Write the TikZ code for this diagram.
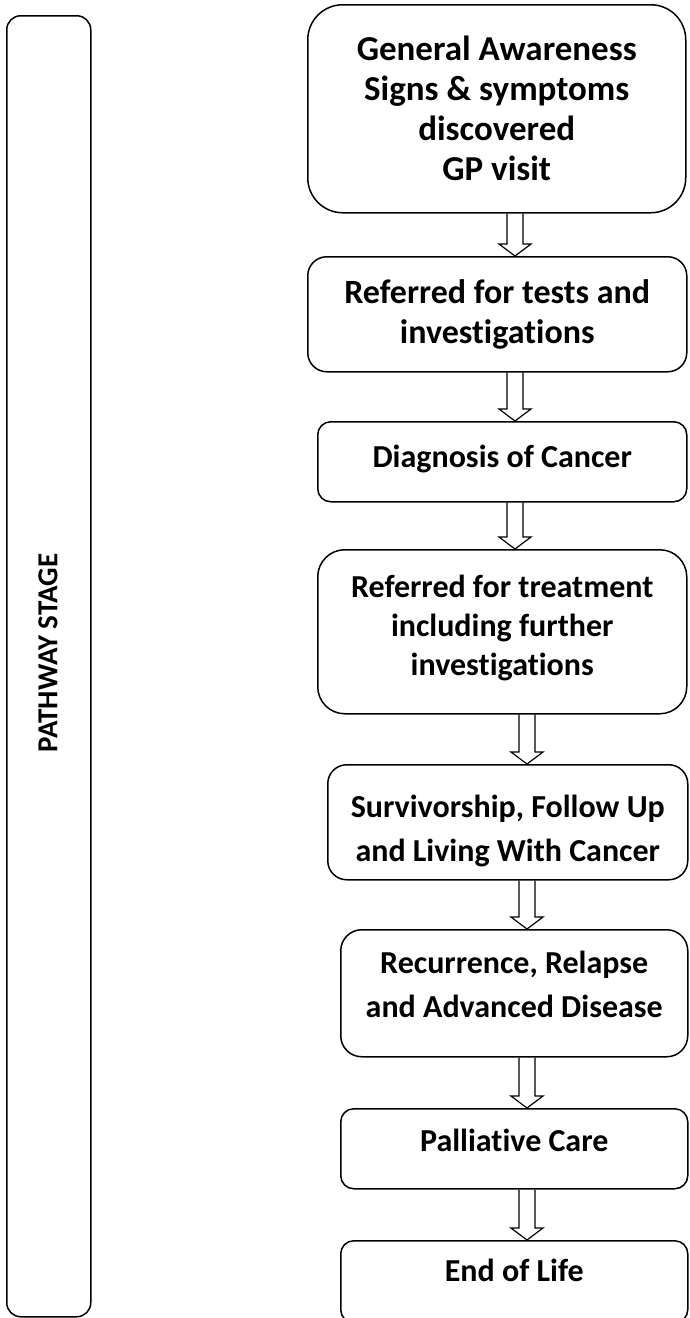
\documentclass[tikz,border=0pt]{standalone}
\usepackage{fontspec}
\setmainfont{Carlito}[Ligatures=NoCommon]
\usetikzlibrary{calc}
\tikzset{
  stagebox/.style={draw=black, line width=1.5pt, fill=white, anchor=north west, inner sep=0pt, align=center,
    font=\fontsize{32}{39}\selectfont\bfseries},
  arrowline/.style={draw=black, line width=1.2pt, line join=miter},
}
\newcommand\stagetext[2]{\raisebox{#1}[\height][\depth]{\begin{tabular}{@{}c@{}}#2\end{tabular}}}
\newcommand\blockarrow[3]{%
  \draw[arrowline] let \p1=(#1.south), \p2=(#2.north) in
    ({(#3-8)*1pt},\y1) -- ({(#3-8)*1pt},\y2+12pt) -- ({(#3-16)*1pt},\y2+12pt) -- ({#3*1pt},\y2)
    -- ({(#3+16)*1pt},\y2+12pt) -- ({(#3+8)*1pt},\y2+12pt) -- ({(#3+8)*1pt},\y1);
}
\begin{document}
\begin{tikzpicture}[x=1pt,y=-1pt]
\useasboundingbox (0,0) rectangle (689,1318);
\clip (0,0) rectangle (689,1318);
\fill[white] (0,0) rectangle (689,1318);
% left stage box
\node[draw=black, line width=1.5pt, rounded corners=14pt, anchor=north west, inner sep=0pt,
  minimum width=84pt, minimum height=1301pt] (side) at (6,15) {};
\node[rotate=90, font=\fontsize{29}{34}\selectfont\bfseries] (sidelabel) at (48,653) {PATHWAY STAGE};
% stage boxes
\node[stagebox, rounded corners=35pt, minimum width=378pt, minimum height=208pt,
  font=\fontsize{35}{40}\selectfont\bfseries] (b1) at (307,4)
  {\stagetext{-4pt}{General Awareness\\Signs \& symptoms\\discovered\\GP visit}};
\node[stagebox, rounded corners=19pt, minimum width=379pt, minimum height=115pt,
  font=\fontsize{34}{40}\selectfont\bfseries] (b2) at (307,256)
  {\stagetext{-1pt}{Referred for tests and\\investigations}};
\node[stagebox, rounded corners=13pt, minimum width=369pt, minimum height=80pt] (b3) at (317,421)
  {\stagetext{2pt}{Diagnosis of Cancer}};
\node[stagebox, rounded corners=27pt, minimum width=369pt, minimum height=164pt] (b4) at (317,549)
  {\stagetext{3pt}{Referred for treatment\\including further\\investigations}};
\node[stagebox, rounded corners=19pt, minimum width=360pt, minimum height=115pt,
  font=\fontsize{32}{44}\selectfont\bfseries] (b5) at (327,764)
  {\stagetext{-8pt}{Survivorship, Follow Up\\and Living With Cancer}};
\node[stagebox, rounded corners=21pt, minimum width=347pt, minimum height=127pt,
  font=\fontsize{32}{44}\selectfont\bfseries] (b6) at (340,929)
  {\stagetext{7pt}{Recurrence, Relapse\\and Advanced Disease}};
\node[stagebox, rounded corners=13pt, minimum width=347pt, minimum height=80pt] (b7) at (340,1108)
  {\stagetext{5pt}{Palliative Care}};
\node[stagebox, rounded corners=13pt, minimum width=347pt, minimum height=82pt] (b8) at (340,1240)
  {\stagetext{8pt}{End of Life}};
% arrows
\blockarrow{b1}{b2}{515}
\blockarrow{b2}{b3}{515}
\blockarrow{b3}{b4}{515}
\blockarrow{b4}{b5}{527}
\blockarrow{b5}{b6}{527}
\blockarrow{b6}{b7}{527}
\blockarrow{b7}{b8}{527}
\end{tikzpicture}
\end{document}
